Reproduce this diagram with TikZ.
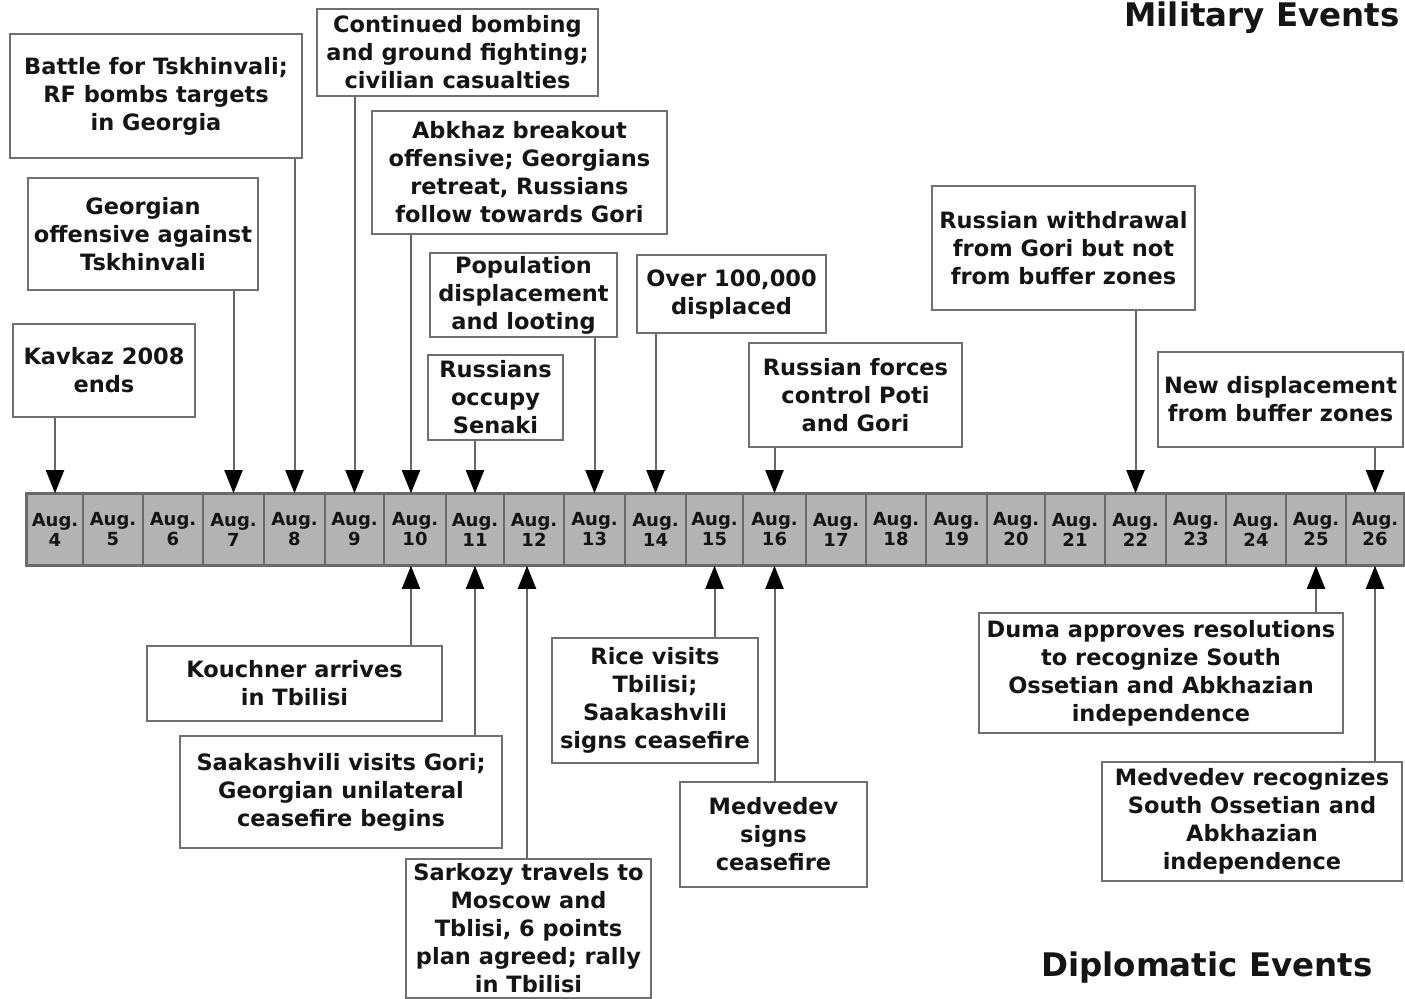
\documentclass[tikz,border=0pt]{standalone}
\usepackage{fontspec}
\setmainfont{DejaVu Sans}
\usetikzlibrary{arrows.meta}
\definecolor{cellfill}{HTML}{B3B3B3}
\definecolor{cellline}{HTML}{6A6A6A}
\definecolor{boxline}{HTML}{707070}
\definecolor{arrline}{HTML}{666666}
\definecolor{txt}{HTML}{151515}
\begin{document}
\begin{tikzpicture}[x=0.5pt,y=-0.5pt,
  evbox/.style={draw=boxline,line width=1pt,fill=white,align=center,inner sep=0pt,text=txt,font=\fontsize{11.25}{14}\selectfont\bfseries},
  cell/.style={draw=cellline,line width=0.8pt,fill=cellfill,align=center,inner sep=0pt,minimum height=35.5pt,text=txt,font=\fontsize{9}{10}\selectfont\bfseries},
  arr/.style={draw=arrline,line width=1pt,-{Triangle[width=9pt,length=11.5pt,black]}},
  title/.style={font=\fontsize{16.25}{19}\selectfont\bfseries,text=txt,inner sep=0pt}]

\useasboundingbox[fill=white] (0,0) rectangle (1405,999);

% timeline cells
\foreach \l/\r/\dd in {27/83/4, 83/143/5, 143/203/6, 203/264/7, 264/325/8, 325/384/9, 384/446/10, 446/504/11, 504/564/12, 564/625/13, 625/686/14, 686/743/15, 743/806/16, 806/866/17, 866/926/18, 926/987/19, 987/1045/20, 1045/1105/21, 1105/1166/22, 1166/1226/23, 1226/1286/24, 1286/1346/25, 1346/1404/26}{
  \pgfmathsetmacro\cx{(\l+\r)/2}
  \pgfmathsetmacro\cw{(\r-\l)*0.5}
  \node[cell,minimum width=\cw pt] (c\dd) at (\cx,529.5) {Aug.\\\dd};
}
\draw[cellline,line width=1.2pt] (c4.north west) rectangle (c26.south east);

% titles
\node[title,anchor=base east] (mil) at (1400,27) {Military Events};
\node[title,anchor=base east] (dip) at (1373,977) {Diplomatic Events};

% military events (top)
\node[evbox,minimum width=91pt,minimum height=46.5pt] (kav) at (104,370.5) {Kavkaz 2008\\ends};
\node[evbox,minimum width=115pt,minimum height=56pt] (geo) at (143,234) {Georgian\\offensive against\\Tskhinvali};
\node[evbox,minimum width=146pt,minimum height=62pt] (bat) at (156,96) {Battle for Tskhinvali;\\RF bombs targets\\in Georgia};
\node[evbox,minimum width=140.5pt,minimum height=43.5pt] (con) at (457.5,52.5) {Continued bombing\\and ground fighting;\\civilian casualties};
\node[evbox,minimum width=147.5pt,minimum height=61.5pt] (abk) at (519.5,172.5) {Abkhaz breakout\\offensive; Georgians\\retreat, Russians\\follow towards Gori};
\node[evbox,minimum width=93.5pt,minimum height=42pt] (pop) at (523.5,295) {Population\\displacement\\and looting};
\node[evbox,minimum width=67.5pt,minimum height=42.5pt] (sen) at (495.5,397.5) {Russians\\occupy\\Senaki};
\node[evbox,minimum width=94.5pt,minimum height=39pt] (ovr) at (731.5,294) {Over 100,000\\displaced};
\node[evbox,minimum width=106.5pt,minimum height=52pt] (rfc) at (855.5,395) {Russian forces\\control Poti\\and Gori};
\node[evbox,minimum width=131.5pt,minimum height=62pt] (wdr) at (1063.5,248) {Russian withdrawal\\from Gori but not\\from buffer zones};
\node[evbox,minimum width=122.5pt,minimum height=47.5pt] (ndp) at (1280.5,399.5) {New displacement\\from buffer zones};

% diplomatic events (bottom)
\node[evbox,minimum width=147.5pt,minimum height=37.5pt] (kou) at (294.5,683.5) {Kouchner arrives\\in Tbilisi};
\node[evbox,minimum width=161pt,minimum height=56pt] (saa) at (341,792) {Saakashvili visits Gori;\\Georgian unilateral\\ceasefire begins};
\node[evbox,minimum width=122.5pt,minimum height=69.5pt] (sar) at (528.5,928.5) {Sarkozy travels to\\Moscow and\\Tblisi, 6 points\\plan agreed; rally\\in Tbilisi};
\node[evbox,minimum width=103pt,minimum height=62.5pt] (ric) at (655,700.5) {Rice visits\\Tbilisi;\\Saakashvili\\signs ceasefire};
\node[evbox,minimum width=93.5pt,minimum height=52.5pt] (mds) at (773.5,834.5) {Medvedev\\signs\\ceasefire};
\node[evbox,minimum width=182pt,minimum height=60pt] (dum) at (1161,673) {Duma approves resolutions\\to recognize South\\Ossetian and Abkhazian\\independence};
\node[evbox,minimum width=150pt,minimum height=59.5pt] (mdr) at (1252,821.5) {Medvedev recognizes\\South Ossetian and\\Abkhazian\\independence};

% arrow anchor points
\coordinate (t10) at ([xshift=-2pt]c10.north);
\coordinate (b10) at ([xshift=-2pt]c10.south);
\coordinate (b12) at ([xshift=-3.5pt]c12.south);

% top arrows
\draw[arr] (kav.south -| c4.north) -- (c4.north);
\draw[arr] (geo.south -| c7.north) -- (c7.north);
\draw[arr] (bat.south -| c8.north) -- (c8.north);
\draw[arr] (con.south -| c9.north) -- (c9.north);
\draw[arr] (abk.south -| t10) -- (t10);
\draw[arr] (sen.south -| c11.north) -- (c11.north);
\draw[arr] (pop.south -| c13.north) -- (c13.north);
\draw[arr] (ovr.south -| c14.north) -- (c14.north);
\draw[arr] (rfc.south -| c16.north) -- (c16.north);
\draw[arr] (wdr.south -| c22.north) -- (c22.north);
\draw[arr] (ndp.south -| c26.north) -- (c26.north);

% bottom arrows
\draw[arr] (kou.north -| b10) -- (b10);
\draw[arr] (saa.north -| c11.south) -- (c11.south);
\draw[arr] (sar.north -| b12) -- (b12);
\draw[arr] (ric.north -| c15.south) -- (c15.south);
\draw[arr] (mds.north -| c16.south) -- (c16.south);
\draw[arr] (dum.north -| c25.south) -- (c25.south);
\draw[arr] (mdr.north -| c26.south) -- (c26.south);
\end{tikzpicture}
\end{document}
